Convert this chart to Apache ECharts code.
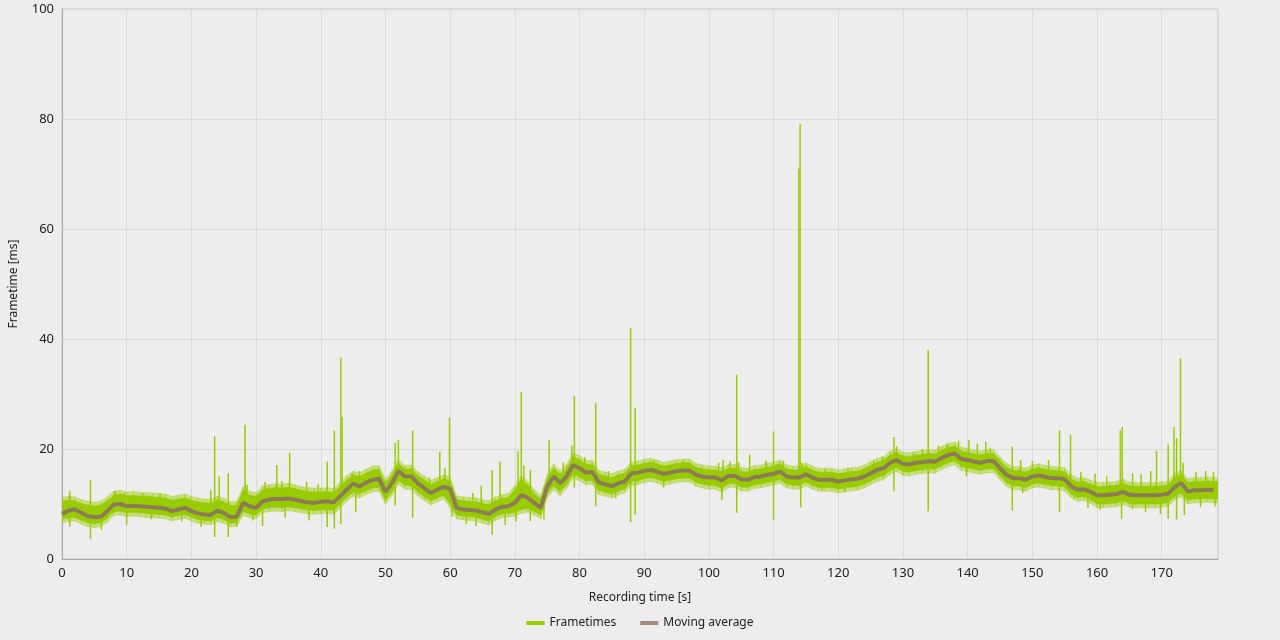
<!DOCTYPE html>
<html>
<head>
<meta charset="utf-8">
<script src="https://cdn.jsdelivr.net/npm/echarts@6/dist/echarts.min.js"></script>
<style>
  html, body { margin: 0; padding: 0; background: #ededed; }
  #chart { width: 1280px; height: 640px; }
</style>
</head>
<body>
<div id="chart"></div>
<script>
// frametime chart: noisy frametimes band + spikes, moving average on top

const xTicks = [0, 10, 20, 30, 40, 50, 60, 70, 80, 90, 100, 110, 120, 130, 140, 150, 160, 170];
const yTicks = [0, 20, 40, 60, 80, 100];

// moving average, one value per second (t = 0 .. 178)
const avgMs = [
  8.2, 8.8, 9.0, 8.4, 7.8, 7.6, 7.7, 8.7, 9.9, 10.0,
  9.6, 9.7, 9.6, 9.5, 9.4, 9.3, 9.2, 8.7, 9.0, 9.3,
  8.7, 8.3, 8.1, 8.0, 8.8, 8.4, 7.6, 7.7, 10.2, 9.6,
  9.3, 10.5, 10.8, 10.9, 10.9, 11.0, 10.8, 10.5, 10.3, 10.2,
  10.4, 10.5, 10.3, 11.4, 12.6, 13.7, 13.2, 13.9, 14.4, 14.6,
  12.2, 13.8, 16.0, 15.0, 15.0, 13.8, 12.9, 12.0, 12.6, 13.1,
  12.8, 9.3, 9.0, 8.9, 8.8, 8.5, 8.2, 9.0, 9.5, 9.6,
  10.2, 11.6, 11.1, 10.2, 9.3, 13.2, 15.0, 13.8, 15.0, 17.1,
  16.5, 15.7, 15.8, 13.9, 13.6, 13.2, 13.8, 14.1, 15.6, 15.7,
  16.0, 16.2, 15.9, 15.5, 15.7, 16.0, 16.1, 16.1, 15.3, 15.0,
  14.8, 14.8, 14.3, 15.1, 15.1, 14.5, 14.4, 14.9, 15.0, 15.3,
  15.5, 15.9, 15.0, 14.8, 14.8, 15.4, 14.8, 14.4, 14.4, 14.4,
  14.1, 14.3, 14.5, 14.6, 15.0, 15.6, 16.2, 16.5, 17.5, 18.0,
  17.3, 17.2, 17.5, 17.6, 17.8, 17.7, 18.4, 18.9, 19.2, 18.2,
  18.0, 17.7, 17.5, 17.8, 17.8, 16.5, 15.3, 14.7, 14.7, 14.4,
  15.0, 15.2, 14.9, 14.7, 14.7, 14.5, 13.2, 12.6, 12.7, 12.2,
  11.6, 11.6, 11.7, 11.8, 12.2, 11.7, 11.6, 11.6, 11.6, 11.6,
  11.7, 11.9, 13.1, 13.8, 12.3, 12.5, 12.5, 12.6, 12.5
];

// dense frametime band, upper / lower edge per second
const bandHi = [
  10.5, 10.7, 10.6, 10.1, 9.8, 9.6, 9.8, 10.6, 11.6, 11.8,
  11.5, 11.6, 11.4, 11.4, 11.3, 11.2, 11.1, 10.7, 10.9, 11.1,
  10.7, 10.4, 10.2, 10.2, 10.7, 10.4, 9.7, 9.8, 12.5, 11.6,
  11.4, 12.6, 12.8, 13.0, 12.9, 13.1, 12.8, 12.5, 12.3, 12.2,
  12.2, 12.3, 12.1, 13.2, 14.4, 15.3, 15.0, 15.6, 16.2, 16.3,
  13.8, 15.3, 17.4, 16.3, 16.4, 15.2, 14.4, 13.6, 14.1, 14.6,
  14.2, 10.8, 10.6, 10.5, 10.4, 10.1, 9.9, 10.6, 11.0, 11.2,
  12.6, 14.5, 13.4, 11.9, 10.9, 14.6, 16.6, 15.4, 16.5, 18.6,
  18.1, 17.2, 17.2, 15.4, 15.1, 14.8, 15.3, 15.6, 16.9, 17.1,
  17.4, 17.6, 17.3, 16.9, 17.1, 17.4, 17.5, 17.5, 16.7, 16.4,
  16.2, 16.2, 15.9, 16.5, 16.5, 15.9, 15.8, 16.3, 16.4, 16.7,
  16.9, 17.3, 16.4, 16.2, 16.2, 16.8, 16.2, 15.8, 15.8, 15.8,
  15.5, 15.7, 15.9, 16.0, 16.4, 17.0, 17.6, 17.9, 18.9, 19.4,
  18.7, 18.6, 18.9, 19.0, 19.2, 19.1, 19.8, 20.3, 20.6, 19.6,
  19.4, 19.1, 18.9, 19.2, 19.2, 17.9, 16.7, 16.1, 16.1, 15.8,
  16.4, 16.6, 16.3, 16.1, 16.1, 15.9, 14.6, 14.0, 14.1, 13.6,
  13.2, 13.2, 13.3, 13.4, 13.8, 13.3, 13.2, 13.2, 13.2, 13.2,
  13.3, 13.5, 14.8, 15.4, 13.9, 14.1, 14.1, 14.2, 14.1
];
const bandLo = [
  7.3, 7.5, 7.6, 7.0, 6.6, 6.4, 6.6, 7.4, 8.6, 8.7,
  8.4, 8.5, 8.4, 8.3, 8.2, 8.1, 8.0, 7.6, 7.9, 8.1,
  7.6, 7.2, 7.0, 6.9, 7.5, 7.2, 6.5, 6.6, 8.6, 8.2,
  8.0, 9.1, 9.3, 9.4, 9.3, 9.5, 9.3, 9.1, 8.9, 8.8,
  8.9, 9.0, 8.8, 9.9, 11.2, 12.1, 11.8, 12.4, 12.9, 13.0,
  10.7, 12.2, 14.3, 13.4, 13.3, 12.2, 11.3, 10.5, 11.1, 11.6,
  10.0, 8.0, 7.8, 7.7, 7.6, 7.2, 6.9, 7.7, 8.2, 8.3,
  8.5, 9.0, 9.2, 8.7, 8.0, 11.8, 13.3, 12.2, 13.5, 15.4,
  14.9, 14.2, 14.3, 12.4, 12.1, 11.8, 12.4, 12.7, 14.1, 14.2,
  14.6, 14.8, 14.5, 14.1, 14.3, 14.6, 14.7, 14.7, 13.9, 13.6,
  13.4, 13.4, 12.8, 13.7, 13.7, 13.1, 13.0, 13.5, 13.6, 13.9,
  14.1, 14.5, 13.6, 13.4, 13.4, 14.0, 13.4, 13.0, 13.0, 13.0,
  12.7, 12.9, 13.1, 13.2, 13.6, 14.2, 14.8, 15.1, 16.1, 16.6,
  15.9, 15.8, 16.1, 16.2, 16.4, 16.3, 17.0, 17.5, 17.8, 16.8,
  16.6, 16.3, 16.1, 16.4, 16.4, 15.1, 13.9, 13.3, 13.3, 13.0,
  13.6, 13.8, 13.5, 13.3, 13.3, 13.1, 11.8, 11.2, 11.3, 10.8,
  10.0, 10.0, 10.1, 10.2, 10.6, 10.1, 10.0, 10.0, 10.0, 10.0,
  10.1, 10.3, 11.4, 12.0, 10.7, 10.9, 10.9, 11.0, 10.9
];

// single frame spikes [time s, frametime ms]
const spikesUp = [
  [1.2, 12.3], [4.4, 14.4], [8.2, 12.4], [9.6, 12.1], [12.5, 12.0], [15.2, 11.9],
  [23.0, 12.5], [23.6, 22.3], [24.3, 15.0], [25.7, 15.6], [28.3, 24.4], [28.6, 13.5],
  [31.4, 14.0], [33.2, 17.1], [34.0, 14.2], [35.2, 19.3], [37.8, 14.0], [39.6, 13.6],
  [41.0, 17.7], [42.1, 23.4], [43.1, 36.6], [43.3, 25.8], [44.8, 15.6], [46.0, 16.0],
  [51.5, 21.1], [52.0, 21.7], [54.2, 23.4], [56.8, 14.8], [58.4, 19.5], [59.2, 16.5],
  [59.9, 25.7], [63.5, 12.0], [64.8, 13.3], [66.5, 16.2], [67.7, 17.7], [70.5, 19.6],
  [71.0, 30.4], [71.4, 17.0], [72.4, 16.2], [75.3, 21.7], [77.5, 17.5], [78.8, 20.6],
  [79.2, 29.6], [80.8, 18.5], [82.5, 28.4], [84.5, 16.0], [87.9, 42.0], [88.6, 27.5],
  [91.5, 18.0], [96.0, 17.9], [101.5, 17.5], [102.2, 18.0], [103.3, 17.8], [104.3, 33.5],
  [104.6, 17.6], [106.3, 19.0], [108.8, 17.9], [110.0, 23.2], [111.5, 17.8], [113.9, 71.0],
  [114.1, 79.1], [114.4, 17.5], [118.0, 16.4], [121.5, 16.6], [125.5, 18.0], [126.8, 18.6],
  [128.6, 22.2], [129.0, 20.5], [131.6, 19.4], [133.0, 20.0], [133.9, 38.0], [135.5, 20.6],
  [136.8, 21.0], [138.6, 21.5], [140.2, 21.7], [141.5, 21.0], [142.8, 21.3], [143.5, 20.2],
  [146.9, 20.4], [148.2, 18.0], [150.0, 17.8], [152.5, 18.0], [154.2, 23.4], [155.9, 22.6],
  [157.5, 15.8], [159.7, 15.5], [161.5, 15.0], [163.6, 23.4], [163.9, 24.0], [165.5, 15.6],
  [166.8, 15.4], [168.3, 16.0], [169.2, 19.7], [171.0, 20.8], [171.9, 24.0], [172.3, 22.0],
  [172.9, 36.5], [173.3, 17.5], [175.3, 15.8], [176.8, 16.0], [178.0, 15.8]
];
const spikesDown = [
  [1.2, 5.9], [4.4, 3.6], [6.1, 5.3], [10.0, 6.2], [13.8, 7.2], [18.5, 6.8],
  [21.5, 5.8], [23.6, 4.0], [25.7, 4.0], [27.0, 5.9], [29.5, 7.0], [31.0, 6.0],
  [34.5, 7.5], [38.2, 7.0], [41.0, 5.8], [42.1, 5.5], [43.1, 6.4], [45.4, 8.5],
  [51.5, 9.7], [54.2, 7.5], [60.3, 7.7], [62.5, 6.3], [64.0, 6.0], [66.5, 4.4],
  [68.5, 6.2], [70.2, 6.8], [72.4, 6.9], [74.5, 7.2], [79.2, 13.0], [82.5, 9.6],
  [85.6, 11.0], [87.9, 6.7], [88.6, 8.1], [93.0, 13.0], [102.0, 10.7], [104.3, 8.4],
  [110.0, 7.1], [114.2, 9.4], [117.5, 12.5], [121.0, 12.2], [128.6, 12.3], [133.9, 8.7],
  [139.8, 15.0], [146.9, 8.8], [148.5, 12.0], [154.2, 8.5], [156.5, 11.0], [158.6, 9.3],
  [160.5, 9.0], [163.8, 7.3], [165.5, 9.1], [167.5, 8.5], [169.8, 8.2], [171.0, 7.3],
  [172.3, 7.2], [173.5, 8.0], [176.0, 9.5], [178.3, 9.6]
];

const xMax = 178.7;
const green = '#99cc00';
const greenFuzz = 'rgba(153, 204, 0, 0.45)';
const brown = '#8d7b55';

const bandData = avgMs.map((_, i) => [i, bandLo[i], bandHi[i]]);
const avgData = avgMs.map((v, i) => [i, v]);
const spikeData = spikesUp.concat(spikesDown);

function avgAt(t) {
  const i = Math.min(avgMs.length - 1, Math.max(0, Math.round(t)));
  return avgMs[i];
}

// one quad per second, joined to the next second's edges
function bandPiece(params, api, pad, fill) {
  const i = params.dataIndex;
  const j = Math.min(i + 1, bandHi.length - 1);
  const t0 = api.value(0);
  const t1 = j === i ? xMax : t0 + 1;
  const pts = [
    api.coord([t0, bandHi[i] + pad]),
    api.coord([t1, bandHi[j] + pad]),
    api.coord([t1, bandLo[j] - pad]),
    api.coord([t0, bandLo[i] - pad])
  ];
  return { type: 'polygon', shape: { points: pts }, style: { fill: fill, stroke: fill, lineWidth: 0.6 } };
}

function renderBand(params, api) {
  return {
    type: 'group',
    children: [
      bandPiece(params, api, 0.7, greenFuzz),
      bandPiece(params, api, 0, green)
    ]
  };
}

function renderSpike(params, api) {
  const t = api.value(0);
  const a = api.coord([t, avgAt(t)]);
  const b = api.coord([t, api.value(1)]);
  return {
    type: 'line',
    shape: { x1: a[0], y1: a[1], x2: b[0], y2: b[1] },
    style: { stroke: green, lineWidth: 1.5 }
  };
}

const chart = echarts.init(document.getElementById('chart'));
const font = 'Noto Sans';

chart.setOption({
  backgroundColor: '#ededed',
  animation: false,
  textStyle: { fontFamily: font },
  grid: {
    left: 62, right: 62, top: 9, bottom: 81,
    show: true, borderColor: '#c4c4c4', borderWidth: 1, backgroundColor: 'transparent'
  },
  legend: {
    bottom: 6,
    left: 'center',
    itemWidth: 18,
    itemHeight: 4,
    itemGap: 24,
    textStyle: { fontFamily: font, fontSize: 12, color: '#222' },
    data: [
      { name: 'Frametimes', icon: 'rect' },
      { name: 'Moving average', icon: 'rect', itemStyle: { color: '#a08a80' } }
    ]
  },
  xAxis: {
    type: 'value',
    min: 0,
    max: xMax,
    interval: 10,
    name: 'Recording time [s]',
    nameLocation: 'middle',
    nameGap: 33,
    nameTextStyle: { fontFamily: font, fontSize: 12, color: '#222' },
    axisLine: { lineStyle: { color: '#aaaaaa' } },
    axisTick: { show: false },
    axisLabel: {
      showMaxLabel: false,
      fontFamily: font, fontSize: 13, color: '#222', margin: 8,
      formatter: v => xTicks.includes(v) ? String(v) : ''
    },
    splitLine: { show: true, lineStyle: { color: '#dadada' } }
  },
  yAxis: {
    type: 'value',
    min: 0,
    max: 100,
    interval: 20,
    name: 'Frametime [ms]',
    nameLocation: 'middle',
    nameGap: 42,
    nameTextStyle: { fontFamily: font, fontSize: 12, color: '#222' },
    axisLine: { show: true, lineStyle: { color: '#aaaaaa' } },
    axisTick: { show: false },
    axisLabel: {
      fontFamily: font, fontSize: 13, color: '#222', margin: 8,
      formatter: v => yTicks.includes(v) ? String(v) : ''
    },
    splitLine: { show: true, lineStyle: { color: '#dadada' } }
  },
  series: [
    {
      name: 'Frametimes',
      type: 'custom',
      clip: true,
      renderItem: renderSpike,
      itemStyle: { color: green },
      encode: { x: 0, y: 1 },
      data: spikeData,
      z: 2
    },
    {
      name: 'Frametimes',
      type: 'custom',
      clip: true,
      renderItem: renderBand,
      itemStyle: { color: green },
      encode: { x: 0, y: [1, 2] },
      data: bandData,
      z: 3
    },
    {
      name: 'Moving average',
      type: 'line',
      data: avgData,
      showSymbol: false,
      symbol: 'none',
      lineStyle: { color: brown, width: 4 },
      itemStyle: { color: brown },
      z: 4
    }
  ]
});
</script>
</body>
</html>
